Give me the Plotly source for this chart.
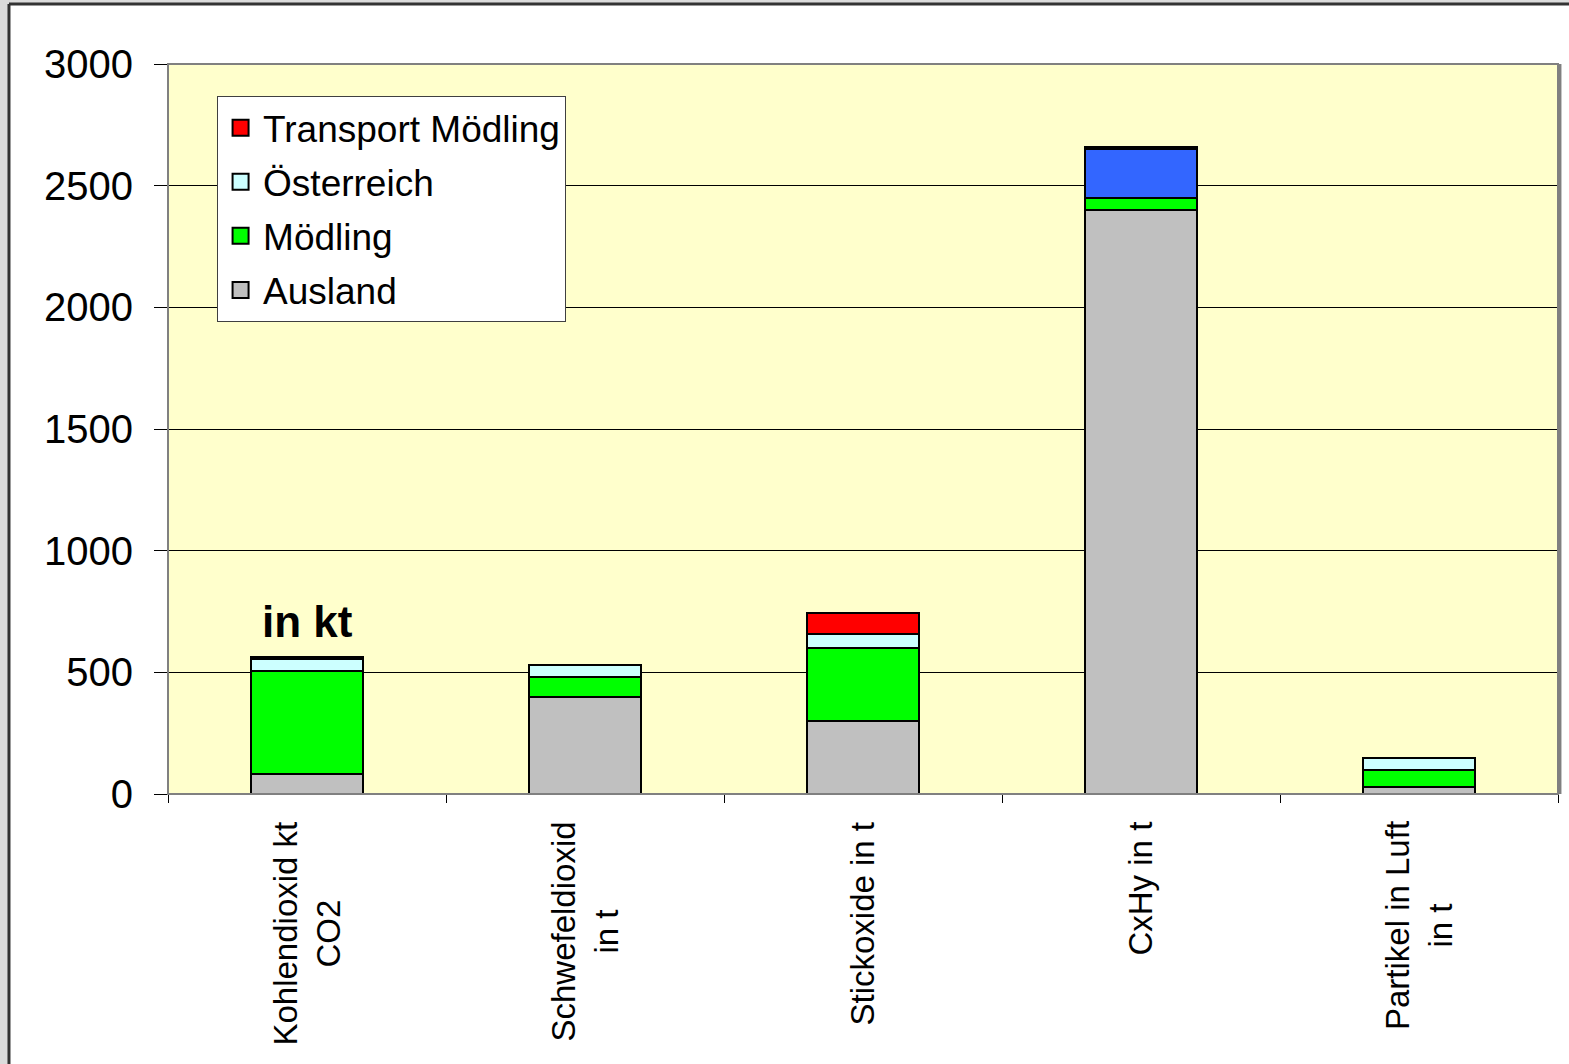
import plotly.graph_objects as go

# Emission categories (x axis) and stacked contributions
categories = ["Kohlendioxid kt<br>CO2", "Schwefeldioxid<br>in t", "Stickoxide in t",
              "CxHy in t", "Partikel in Luft<br>in t"]
ausland = [84, 400, 300, 2400, 30]
moedling = [420, 80, 302, 50, 70]
oesterreich = [52, 50, 55, 200, 50]
transport = [6, 0, 85, 10, 0]

series_names = ["Ausland", "Mödling", "Österreich", "Transport Mödling"]
series_colors = ["#C0C0C0", "#00FF00", "#CCFFFF", "#FF0000"]
# the CxHy Österreich segment is highlighted in blue
oesterreich_colors = ["#CCFFFF", "#CCFFFF", "#CCFFFF", "#3366FF", "#CCFFFF"]

y_ticks = [0, 500, 1000, 1500, 2000, 2500, 3000]

FONT = "Liberation Sans, Arial, sans-serif"

fig = go.Figure()
for name, vals, col in zip(series_names, [ausland, moedling, oesterreich, transport], series_colors):
    marker_col = oesterreich_colors if name == "Österreich" else col
    fig.add_trace(go.Bar(
        x=categories, y=vals, name=name,
        marker=dict(color=marker_col, line=dict(color="black", width=2)),
        legendgroup=name, showlegend=False,
    ))

# legend entries with larger square swatches, top to bottom
for rank, (name, col) in enumerate(zip(series_names[::-1], series_colors[::-1])):
    fig.add_trace(go.Scatter(
        x=[None], y=[None], mode="markers", name=name, legendgroup=name,
        legendrank=rank + 1,
        marker=dict(symbol="square", size=19, color=col, line=dict(color="black", width=2)),
    ))

# rotated category labels below the axis
annotations = []
for cat in categories:
    annotations.append(dict(
        x=cat, xref="x", y=-0.035, yref="paper",
        text=cat, textangle=-90, showarrow=False,
        xanchor="center", yanchor="top", align="center",
        font=dict(family=FONT, size=33, color="black"),
    ))
annotations.append(dict(
    x=categories[0], xref="x", y=707, yref="y", text="<b>in kt</b>",
    showarrow=False, xanchor="center", yanchor="middle",
    font=dict(family=FONT, size=44, color="black"),
))

shapes = [
    # grey surround and dark page edge
    dict(type="rect", xref="paper", yref="paper", x0=-0.125, x1=-0.1144, y0=-0.5, y1=1.2,
         fillcolor="#DCDCDC", line=dict(width=0), layer="above"),
    dict(type="rect", xref="paper", yref="paper", x0=-0.125, x1=1.1, y0=1.0822, y1=1.2,
         fillcolor="#DCDCDC", line=dict(width=0), layer="above"),
    dict(type="line", xref="paper", yref="paper", x0=-0.1144, x1=-0.1144, y0=-0.5, y1=1.0822,
         line=dict(color="#333333", width=3), layer="above"),
    dict(type="line", xref="paper", yref="paper", x0=-0.1144, x1=1.1, y0=1.0822, y1=1.0822,
         line=dict(color="#333333", width=3), layer="above"),
    # plot area frame
    dict(type="rect", xref="paper", yref="paper", x0=0, x1=1, y0=0, y1=1,
         line=dict(color="#808080", width=2), fillcolor="rgba(0,0,0,0)", layer="above"),
    dict(type="line", xref="paper", yref="paper", x0=1.0014, x1=1.0014, y0=0, y1=1.0,
         line=dict(color="#808080", width=3), layer="above"),
]

fig.update_layout(
    barmode="stack",
    bargap=0.6,
    width=1569, height=1064,
    margin=dict(l=168, r=11, t=64, b=270, pad=0),
    paper_bgcolor="white",
    plot_bgcolor="#FFFFCC",
    font=dict(family=FONT, color="black"),
    showlegend=True,
    legend=dict(
        x=0.0353, y=0.956, xanchor="left", yanchor="top",
        traceorder="grouped", tracegroupgap=3, itemsizing="trace", itemwidth=35,
        bgcolor="white", bordercolor="#404040", borderwidth=1,
        font=dict(family=FONT, size=37, color="black"),
    ),
    annotations=annotations,
    shapes=shapes,
)
fig.update_xaxes(
    showticklabels=False, ticks="outside", tickson="boundaries", ticklen=8,
    tickcolor="black", tickwidth=1, showline=True, linecolor="black", linewidth=1,
    showgrid=False,
)
fig.update_yaxes(
    range=[0, 3000], tickvals=y_ticks, ticks="outside", ticklen=13, tickcolor="black",
    tickwidth=1, showgrid=True, gridcolor="black", gridwidth=1, zeroline=False,
    showline=False, ticklabelstandoff=13,
    tickfont=dict(family=FONT, size=40, color="black"),
)

fig.write_html("out.html")
